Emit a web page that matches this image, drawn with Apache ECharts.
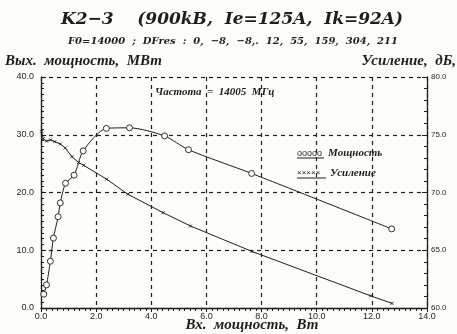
<!DOCTYPE html>
<html><head><meta charset="utf-8">
<script src="https://cdn.jsdelivr.net/npm/echarts@6/dist/echarts.min.js"></script>
<style>html,body{margin:0;padding:0;background:#fcfcfa;}#c{width:457px;height:334px;}</style>
</head><body><div id="c"></div>
<script>
// Data
const powerX = [0.1, 0.2, 0.34, 0.45, 0.62, 0.7, 0.89, 1.2, 1.53, 2.37, 3.21, 4.48, 5.35, 7.64, 12.72];
const powerY = [2.4, 4.0, 8.1, 12.1, 15.8, 18.2, 21.6, 23.0, 27.2, 31.1, 31.2, 29.8, 27.4, 23.3, 13.7];
const gainX = [0.02, 0.08, 0.2, 0.35, 0.5, 0.7, 0.88, 1.12, 1.36, 1.55, 2.38, 3.15, 4.43, 5.42, 7.65, 11.96, 12.73];
const gainDb = [75.3, 74.65, 74.45, 74.55, 74.4, 74.2, 73.85, 73.1, 72.6, 72.35, 71.15, 69.85, 68.25, 67.1, 64.9, 61.05, 60.4];
const xTicks = {min: 0, max: 14, step: 2};
const yLeftTicks = {min: 0, max: 40, step: 10};
const yRightTicks = {min: 60, max: 80, step: 5};

const ink = '#1e1e1e';
const serif = '"DejaVu Serif", "Liberation Serif", serif';
const serif2 = '"Liberation Serif", "DejaVu Serif", serif';
const sans = '"Liberation Sans", "DejaVu Sans", sans-serif';
const chart = echarts.init(document.getElementById('c'));
const dashed = {show: true, lineStyle: {color: ink, type: [4, 4], width: 1.2}};
chart.setOption({
  backgroundColor: '#fcfcfa',
  animation: false,
  grid: {left: 41, right: 30, top: 77, bottom: 26},
  xAxis: {
    type: 'value', min: xTicks.min, max: xTicks.max, interval: xTicks.step,
    axisLine: {lineStyle: {color: ink, width: 1.3}},
    axisTick: {show: true, length: 4, lineStyle: {color: ink}},
    minorTick: {show: true, splitNumber: 10, length: 3, lineStyle: {color: ink}},
    axisLabel: {color: ink, fontFamily: sans, fontSize: 9, margin: 4, formatter: v => v.toFixed(1)},
    splitLine: dashed
  },
  yAxis: [{
    type: 'value', min: yLeftTicks.min, max: yLeftTicks.max, interval: yLeftTicks.step,
    axisLine: {show: true, lineStyle: {color: ink, width: 1.3}},
    axisTick: {show: true, inside: true, length: 5, lineStyle: {color: ink}},
    minorTick: {show: true, splitNumber: 10, length: 3, lineStyle: {color: ink}},
    axisLabel: {color: ink, fontFamily: sans, fontSize: 9, margin: 7, formatter: v => v.toFixed(1)},
    splitLine: dashed
  }, {
    type: 'value', position: 'right', min: yRightTicks.min, max: yRightTicks.max, interval: yRightTicks.step,
    axisLine: {show: true, lineStyle: {color: ink, width: 1.3}},
    axisTick: {show: true, inside: true, length: 5, lineStyle: {color: ink}},
    minorTick: {show: true, splitNumber: 5, length: 3, lineStyle: {color: ink}},
    axisLabel: {color: ink, fontFamily: sans, fontSize: 8, margin: 4, formatter: v => v.toFixed(1)},
    splitLine: {show: false}
  }],
  series: [{
    type: 'line', xAxisIndex: 0, yAxisIndex: 0,
    data: powerX.map((x, i) => [x, powerY[i]]),
    smooth: 0.25,
    symbol: 'circle', symbolSize: 6,
    lineStyle: {color: ink, width: 1},
    itemStyle: {color: '#fcfcfa', borderColor: ink, borderWidth: 0.9}
  }, {
    type: 'line', xAxisIndex: 0, yAxisIndex: 1,
    data: gainX.map((x, i) => [x, gainDb[i]]),
    symbol: 'path://M0,0L10,10M10,0L0,10', symbolSize: 3,
    lineStyle: {color: ink, width: 1},
    itemStyle: {color: 'none', borderColor: ink, borderWidth: 0.9}
  }],
  graphic: [
    {type: 'text', x: 232, y: 11, style: {text: 'K2\u22123    (900kB,  Ie=125A,  Ik=92A)', font: 'italic bold 17px ' + serif, fill: ink, textAlign: 'center'}},
    {type: 'text', x: 233, y: 36, style: {text: 'F0=14000  ;  DFres  :  0,  \u22128,  \u22128,.  12,  55,  159,  304,  211', font: 'italic bold 10px ' + serif, fill: ink, textAlign: 'center'}},
    {type: 'text', x: 5, y: 54, style: {text: 'Вых.  мощность,  МВт', font: 'italic bold 15px ' + serif2, fill: ink}},
    {type: 'text', x: 456, y: 54, style: {text: 'Усиление,  дБ,', font: 'italic bold 15px ' + serif2, fill: ink, textAlign: 'right'}},
    {type: 'text', x: 252, y: 318, style: {text: 'Вх.  мощность,  Вт', font: 'italic bold 15px ' + serif2, fill: ink, textAlign: 'center'}},
    {type: 'text', x: 155, y: 87, style: {text: 'Частота  =  14005  МГц', font: 'italic bold 11px ' + serif2, fill: ink}},
    {type: 'text', x: 297, y: 149, style: {text: 'ooooo', font: '9px ' + sans, fill: ink}},
    {type: 'line', shape: {x1: 297, y1: 158, x2: 324, y2: 158}, style: {stroke: ink, lineWidth: 1}},
    {type: 'text', x: 328, y: 148, style: {text: 'Мощность', font: 'italic bold 11px ' + serif2, fill: ink}},
    {type: 'text', x: 297, y: 169, style: {text: '×××××', font: '8px ' + sans, fill: ink}},
    {type: 'line', shape: {x1: 297, y1: 178, x2: 326, y2: 178}, style: {stroke: ink, lineWidth: 1}},
    {type: 'text', x: 330, y: 168, style: {text: 'Усиление', font: 'italic bold 11px ' + serif2, fill: ink}}
  ]
});
</script></body></html>
